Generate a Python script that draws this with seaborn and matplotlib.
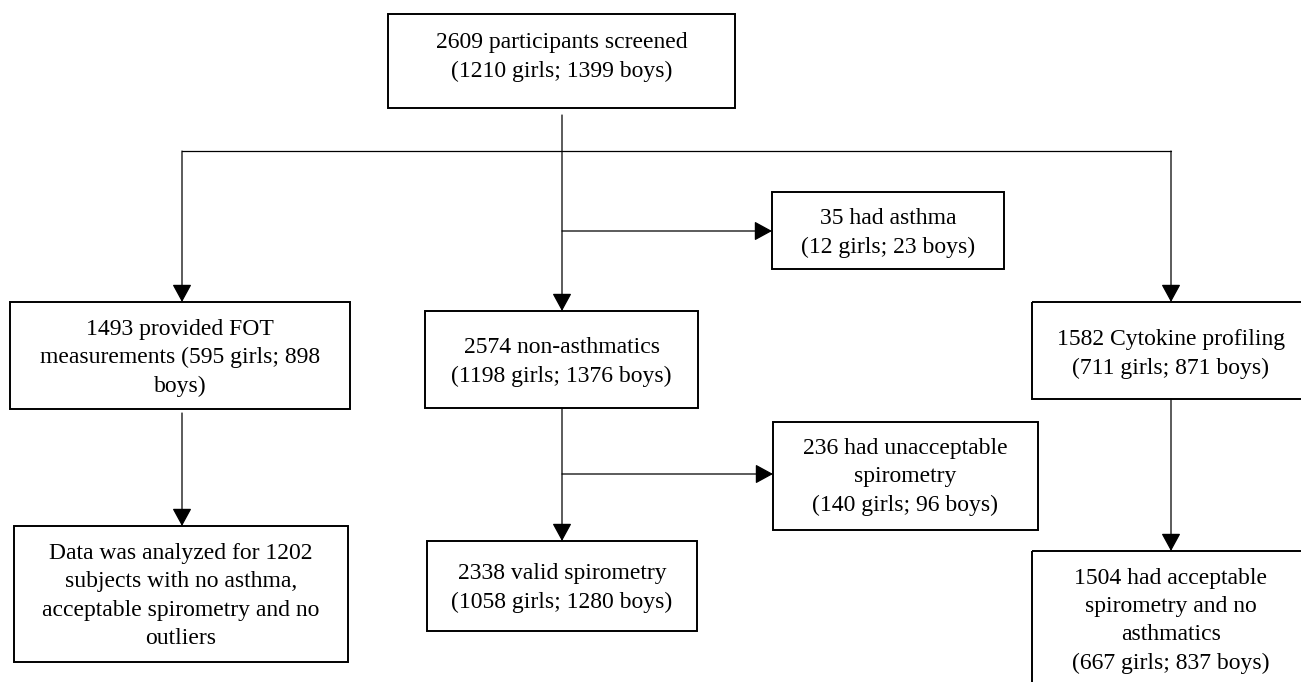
import matplotlib
matplotlib.use("Agg")
import matplotlib.pyplot as plt
import seaborn as sns
from matplotlib.patches import Rectangle

# flowchart content
labels = [
    "2609 participants screened\n(1210 girls; 1399 boys)",
    "35 had asthma\n(12 girls; 23 boys)",
    "1493 provided FOT\nmeasurements (595 girls; 898\nboys)",
    "2574 non-asthmatics\n(1198 girls; 1376 boys)",
    "1582 Cytokine profiling\n(711 girls; 871 boys)",
    "236 had unacceptable\nspirometry\n(140 girls; 96 boys)",
    "Data was analyzed for 1202\nsubjects with no asthma,\nacceptable spirometry and no\noutliers",
    "2338 valid spirometry\n(1058 girls; 1280 boys)",
    "1504 had acceptable\nspirometry and no\nasthmatics\n(667 girls; 837 boys)",
]

# box layout in pixels: x0, x1, y0, y1, text centre y
boxes = [
    (388, 735, 14, 108, 57),
    (772, 1004, 192, 269, 233),
    (10, 350, 302, 409, 358),
    (425, 698, 311, 408, 362),
    (1032, 1310, 302, 399, 354),
    (773, 1038, 422, 530, 477),
    (14, 348, 526, 662, 596),
    (427, 697, 541, 631, 588),
    (1032, 1310, 551, 690, 621),
]

# connector lines (no head) and arrows
lines = [((182, 151), (1171, 151))]
arrows = [
    ((562, 115), (562, 311)),
    ((182, 151), (182, 302)),
    ((1171, 151), (1171, 302)),
    ((562, 231), (772, 231)),
    ((182, 413), (182, 526)),
    ((562, 408), (562, 541)),
    ((562, 474), (773, 474)),
    ((1171, 399), (1171, 551)),
]

sns.set_theme(style="white")
plt.rcParams['font.family'] = ['Liberation Serif', 'DejaVu Serif']

fig = plt.figure(figsize=(13.01, 6.82), dpi=100)
ax = fig.add_axes([0, 0, 1, 1])
ax.set_xlim(0, 1301)
ax.set_ylim(682, 0)
ax.axis('off')

for lab, (x0, x1, y0, y1, ty) in zip(labels, boxes):
    ax.add_patch(Rectangle((x0, y0), x1 - x0, y1 - y0, fill=False,
                           edgecolor='black', linewidth=1.4))
    ax.text((x0 + x1) / 2, ty, lab, ha='center', va='center',
            multialignment='center', fontsize=17, linespacing=1.45,
            color='black')

for (a, b) in lines:
    ax.plot([a[0], b[0]], [a[1], b[1]], color='black', lw=0.9)

for (a, b) in arrows:
    ax.annotate('', xy=b, xytext=a,
                arrowprops=dict(arrowstyle='-|>,head_length=0.55,head_width=0.3',
                                mutation_scale=20, color='black', lw=0.9,
                                shrinkA=0, shrinkB=0))

fig.savefig('out.png', dpi=100, facecolor='white')
